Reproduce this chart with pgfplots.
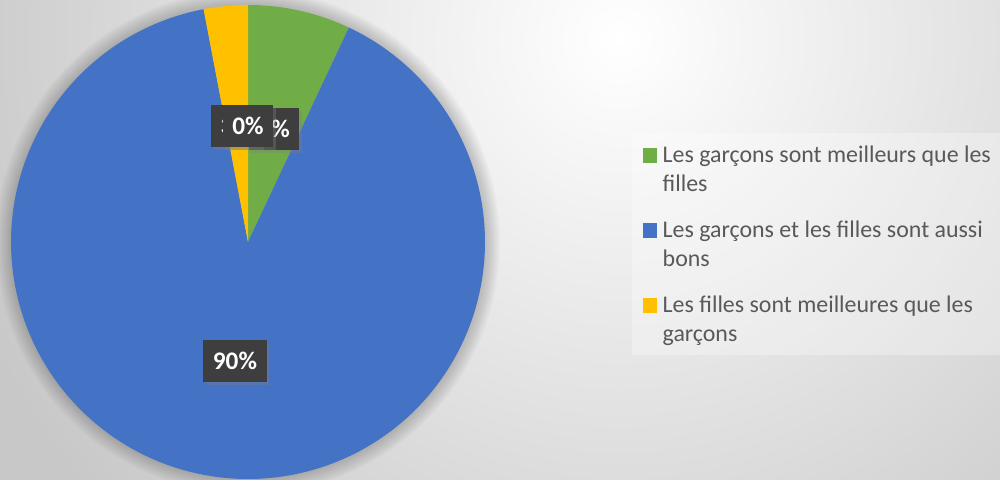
\documentclass[border=0pt]{standalone}
\usepackage{pgfplots}
\pgfplotsset{compat=1.18}
\usepackage{pgfplotstable}
\usepackage{fontspec}
\setmainfont{Carlito}
\usetikzlibrary{shadows}
\definecolor{pgreen}{HTML}{70AD47}
\definecolor{pblue}{HTML}{4472C4}
\definecolor{pyellow}{HTML}{FFC000}
\definecolor{legtext}{HTML}{595959}
\definecolor{bgout}{HTML}{C8C8C8}
\definecolor{lblbox}{HTML}{3E3E3E}

% share of answers, in %
\pgfplotstableread{
part   value
green  7
blue   90
yellow 3
other  0
}\piedata

\tikzset{
  lbl/.style={fill=lblbox, text=white, font=\bfseries\fontsize{14.4}{17}\selectfont,
              minimum height=0.84cm, inner xsep=5.5pt,
              drop shadow={shadow xshift=1.5pt, shadow yshift=-1.5pt, opacity=0.35}},
}

\begin{document}
\begin{tikzpicture}
\pgfplotstablegetelem{0}{value}\of\piedata \pgfmathsetmacro\aA{3.6*\pgfplotsretval}
\pgfplotstablegetelem{1}{value}\of\piedata \pgfmathsetmacro\aB{\aA+3.6*\pgfplotsretval}
\pgfplotstablegetelem{2}{value}\of\piedata \pgfmathsetmacro\aC{\aB+3.6*\pgfplotsretval}
% background
\fill[bgout] (-0.2,-0.2) rectangle (20.2,9.8);
\begin{scope}
  \clip (-0.2,-0.2) rectangle (20.2,9.8);
  \shade[inner color=white, outer color=bgout] (12.4,8.8) circle (14);
  % soft shadow round the pie
  \foreach \i in {1,...,10}
    \fill[black, opacity=0.02] (4.96,4.74) circle ({4.74+0.03*\i});
\end{scope}
% legend panel
\fill[white, opacity=0.3] (12.64,2.48) rectangle (20.2,6.92);

\begin{axis}[
  at={(4.96cm,4.74cm)}, anchor=origin,
  x=4.74cm, y=4.74cm,
  xmin=-1.0464, xmax=3.173, ymin=-1.0, ymax=1.0211,
  hide axis, clip=false,
  legend image code/.code={\fill[#1] (0cm,-0.01cm) rectangle (0.29cm,0.28cm);},
  legend style={at={(0.6427,0.696)}, anchor=north west, draw=none, fill=none,
    inner sep=0pt, outer sep=0pt, row sep=16.6pt,
    font=\fontsize{13.6}{16.5}\selectfont, text=legtext,
    cells={anchor=base west},
    nodes={inner xsep=0.11cm, inner ysep=0pt, text depth=}},
]
\addplot[draw=none, fill=pgreen, domain=0:\aA, samples=30, variable=\t]
  ({sin(\t)}, {cos(\t)}) -- (axis cs:0,0) -- cycle;
\addplot[draw=none, fill=pblue, domain=\aA:\aB, samples=240, variable=\t]
  ({sin(\t)}, {cos(\t)}) -- (axis cs:0,0) -- cycle;
\addplot[draw=none, fill=pyellow, domain=\aB:\aC, samples=15, variable=\t]
  ({sin(\t)}, {cos(\t)}) -- (axis cs:0,0) -- cycle;
\legend{\parbox[t]{6.9cm}{Les garçons sont meilleurs que les\\filles},
        \parbox[t]{6.9cm}{Les garçons et les filles sont aussi\\bons},
        \parbox[t]{6.9cm}{Les filles sont meilleures que les\\garçons}}

% data labels (drawn in series order, so they overlap like the original)
\node[lbl] at (axis cs:0.110,0.477) {7\%};
\node[lbl] at (axis cs:-0.055,-0.502) {90\%};
\node[lbl] at (axis cs:-0.050,0.489) {3\%};
\node[lbl] at (axis cs:0.000,0.489) {0\%};
\end{axis}
\pgfresetboundingbox
\useasboundingbox (0,0) rectangle (20,9.58);
\end{tikzpicture}
\end{document}
